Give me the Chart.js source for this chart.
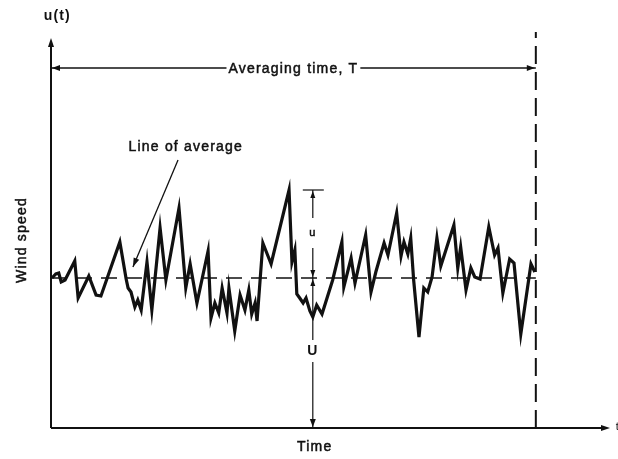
<!DOCTYPE html>
<html>
<head>
<meta charset="utf-8">
<script src="https://cdn.jsdelivr.net/npm/chart.js@4.4.1/dist/chart.umd.min.js"></script>
<style>
  html, body { margin: 0; padding: 0; background: #fff; }
  #wrap { position: relative; width: 618px; height: 459px; }
</style>
</head>
<body>
<div id="wrap"><canvas id="chart"></canvas></div>
<script>
// Wind speed record (time in % of T, speed in arbitrary units)
const timeVals = [
  0.2, 1.0, 1.6, 2.1, 2.9, 4.9, 5.6, 7.8, 9.3, 10.3,
  14.2, 15.5, 15.9, 16.5, 17.3, 17.9, 18.6, 19.8, 20.8, 22.5,
  23.7, 26.4, 27.8, 28.7, 30.1, 32.4, 33.0, 33.8, 34.6, 35.3,
  36.3, 36.7, 37.9, 39.0, 40.0, 40.8, 41.4, 42.1, 42.5, 43.7,
  45.4, 49.1, 49.7, 50.3, 50.7, 51.3, 52.0, 52.6, 53.4, 54.0,
  54.8, 55.9, 58.1, 60.0, 60.4, 61.9, 62.7, 64.9, 66.0, 67.0,
  68.7, 69.5, 71.3, 72.2, 72.8, 73.6, 74.2, 74.8, 75.9, 76.9,
  77.7, 78.6, 79.6, 80.4, 83.1, 83.9, 84.5, 85.6, 86.6, 87.4,
  88.5, 90.3, 91.5, 92.2, 93.2, 94.6, 95.5, 96.9, 99.0, 99.8
];
const speedVals = [
  15.0, 15.4, 15.5, 14.6, 14.8, 16.7, 13.0, 15.2, 13.3, 13.2,
  18.6, 14.9, 14.0, 13.6, 12.1, 12.8, 11.8, 16.6, 11.8, 20.0,
  14.8, 22.0, 14.0, 16.4, 12.5, 17.7, 11.0, 12.5, 11.5, 14.0,
  11.5, 14.0, 9.7, 13.3, 11.8, 13.8, 11.4, 12.5, 10.7, 18.5,
  16.4, 23.8, 16.6, 17.8, 13.4, 13.0, 12.5, 13.0, 11.7, 11.1,
  12.3, 11.4, 14.8, 18.6, 14.1, 17.0, 14.5, 19.3, 13.6, 15.6,
  18.5, 17.3, 21.5, 17.2, 18.6, 17.4, 19.0, 14.8, 9.1, 14.0,
  13.6, 15.1, 19.0, 16.2, 20.3, 16.0, 18.1, 13.8, 16.0, 15.1,
  14.9, 20.1, 17.3, 18.0, 13.5, 16.9, 16.5, 9.4, 16.4, 15.6
];
const meanSpeed = 15;     // line of average, U
const avgTime = 100;      // averaging time, T
const gustPeak = 23.8;    // top of the u bracket
const gustTime = 54;      // where the u / U bracket stands

const labels = {
  top: 'u(t)', xEnd: 't', x: 'Time', y: 'Wind speed',
  span: 'Averaging time, T', avg: 'Line of average', u: 'u', U: 'U'
};

const ink = '#111';
const font = (size, bold) => (bold ? 'bold ' : '') + size + 'px "Liberation Sans", Arial, sans-serif';

function head(ctx, x, y, ang, len = 8, half = 3) {
  ctx.save();
  ctx.translate(x, y);
  ctx.rotate(ang);
  ctx.beginPath();
  ctx.moveTo(0, 0);
  ctx.lineTo(-len, -half);
  ctx.lineTo(-len, half);
  ctx.closePath();
  ctx.fill();
  ctx.restore();
}

function seg(ctx, x1, y1, x2, y2) {
  ctx.beginPath();
  ctx.moveTo(x1, y1);
  ctx.lineTo(x2, y2);
  ctx.stroke();
}

// scanned lettering is heavier than plain regular weight
function text(ctx, s, x, y) {
  ctx.fillText(s, x, y);
  ctx.save();
  ctx.lineWidth = 0.5;
  ctx.strokeText(s, x, y);
  ctx.restore();
}

const annotate = {
  id: 'annotate',
  afterDatasetsDraw(chart) {
    const { ctx, scales } = chart;
    const px = v => scales.x.getPixelForValue(v);
    const py = v => scales.y.getPixelForValue(v);
    ctx.save();
    ctx.strokeStyle = ink;
    ctx.fillStyle = ink;
    ctx.letterSpacing = '1.2px';

    // axes
    ctx.lineWidth = 2;
    seg(ctx, px(0), py(0), px(0), py(38.6));
    head(ctx, px(0), py(39.0), -Math.PI / 2, 9, 3);
    seg(ctx, px(0), py(0), px(114.5), py(0));
    head(ctx, px(115.3), py(0), 0, 9, 3);

    // averaging time span
    ctx.lineWidth = 1.3;
    const ys = py(36);
    seg(ctx, px(0), ys, px(avgTime), ys);
    head(ctx, px(0) + 1, ys, Math.PI, 8, 3);
    head(ctx, px(avgTime) - 1, ys, 0, 8, 3);
    ctx.font = font(14);
    ctx.textAlign = 'center';
    ctx.textBaseline = 'middle';
    const sw = ctx.measureText(labels.span).width;
    ctx.fillStyle = '#fff';
    ctx.fillRect(px(50) - sw / 2 - 2, ys - 8, sw + 4, 16);
    ctx.fillStyle = ink;
    text(ctx, labels.span, px(50), ys + 1);

    // line of average pointer
    text(ctx, labels.avg, px(27.8), py(28.1));
    ctx.lineWidth = 1.3;
    const ax1 = px(26.2), ay1 = py(26.8), ax2 = px(16.9), ay2 = py(16.1);
    seg(ctx, ax1, ay1, ax2, ay2);
    head(ctx, ax2, ay2, Math.atan2(ay2 - ay1, ax2 - ax1), 9, 3);

    // u / U bracket
    const bx = px(gustTime);
    ctx.lineWidth = 1.2;
    seg(ctx, bx - 10, py(gustPeak), bx + 11, py(gustPeak));
    seg(ctx, bx, py(gustPeak), bx, py(21.0));
    seg(ctx, bx, py(18.0), bx, py(meanSpeed));
    head(ctx, bx, py(gustPeak) + 1, -Math.PI / 2, 7, 2.5);
    head(ctx, bx, py(meanSpeed) - 1, Math.PI / 2, 7, 2.5);
    head(ctx, bx, py(meanSpeed) + 1, -Math.PI / 2, 7, 2.5);
    seg(ctx, bx, py(meanSpeed), bx, py(8.8));
    seg(ctx, bx, py(6.6), bx, py(0));
    head(ctx, bx, py(0) - 1, Math.PI / 2, 8, 3);
    ctx.font = font(11);
    text(ctx, labels.u, bx, py(19.5));
    ctx.font = font(14, true);
    ctx.fillText(labels.U, bx, py(7.7));

    // axis labels
    ctx.font = font(14, true);
    ctx.fillText(labels.top, px(1.3), py(41.2));
    ctx.font = font(14);
    text(ctx, labels.x, px(54.4), py(-1.9));
    ctx.textAlign = 'left';
    ctx.font = font(11);
    ctx.fillText(labels.xEnd, px(116.5), py(0.1));
    ctx.save();
    ctx.translate(px(-6.0), py(18.8));
    ctx.rotate(-Math.PI / 2);
    ctx.textAlign = 'center';
    ctx.font = font(14);
    text(ctx, labels.y, 0, 0);
    ctx.restore();

    ctx.restore();
  }
};

new Chart(document.getElementById('chart'), {
  type: 'scatter',
  data: {
    datasets: [
      {
        label: 'Wind speed',
        data: timeVals.map((t, i) => ({ x: t, y: speedVals[i] })),
        showLine: true,
        borderColor: ink,
        borderWidth: 3.2,
        borderJoinStyle: 'miter',
        pointRadius: 0,
        tension: 0
      },
      {
        label: 'Line of average',
        data: [{ x: 0, y: meanSpeed }, { x: avgTime, y: meanSpeed }],
        showLine: true,
        borderColor: ink,
        borderWidth: 1.6,
        borderDash: [16, 9],
        pointRadius: 0
      },
      {
        label: 'T',
        data: [{ x: avgTime, y: 0 }, { x: avgTime, y: 39.6 }],
        showLine: true,
        borderColor: ink,
        borderWidth: 2,
        borderDash: [18, 8],
        pointRadius: 0
      }
    ]
  },
  options: {
    responsive: true,
    maintainAspectRatio: false,
    animation: false,
    layout: { padding: { left: 51, right: 8, top: 32, bottom: 31 } },
    scales: {
      x: { type: 'linear', display: false, min: 0, max: 115.3 },
      y: { type: 'linear', display: false, min: 0, max: 39.6 }
    },
    plugins: { legend: { display: false }, tooltip: { enabled: false } }
  },
  plugins: [annotate]
});
</script>
</body>
</html>
